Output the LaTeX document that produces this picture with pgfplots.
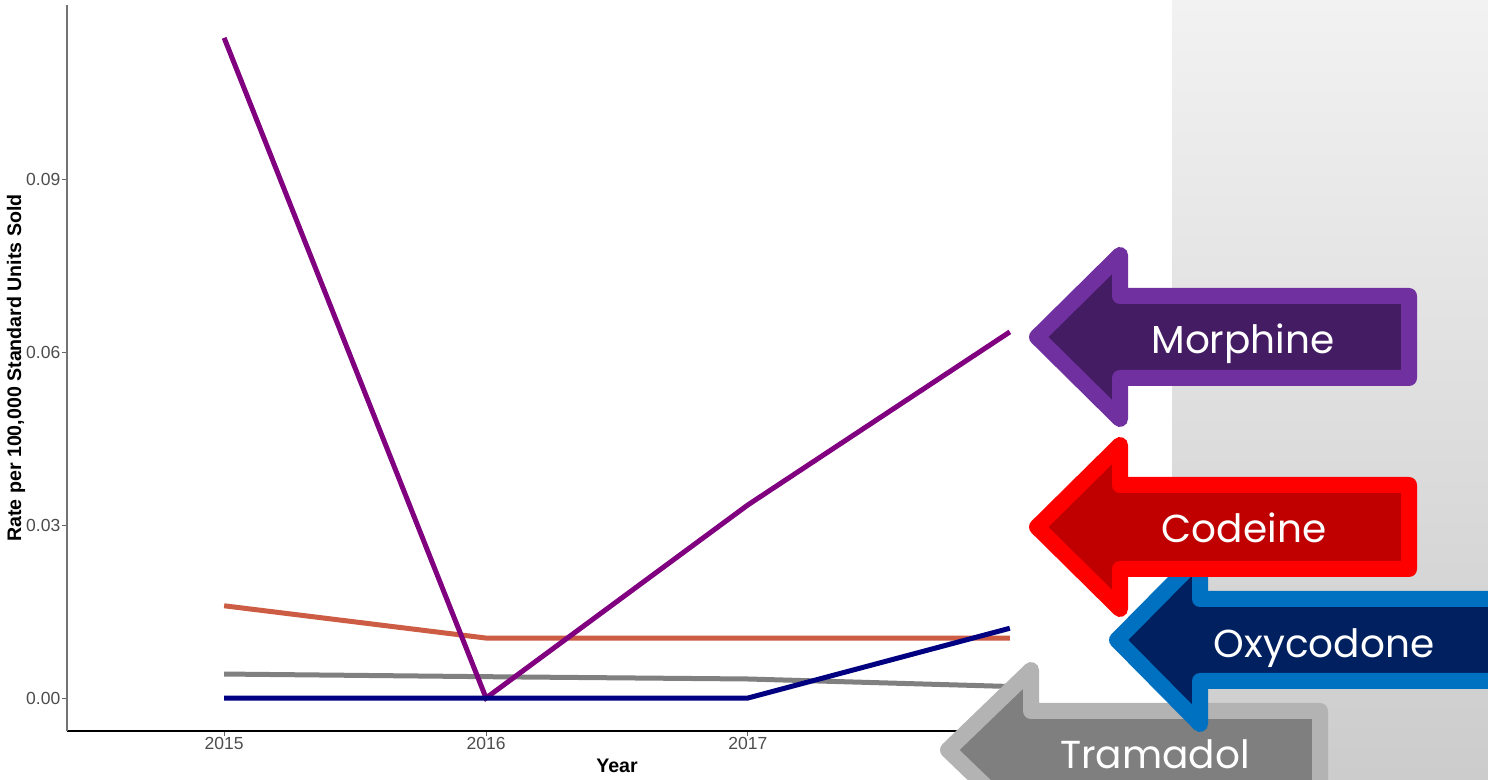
\documentclass[border=0pt]{standalone}
\usepackage{fontspec}
\setmainfont{Liberation Sans}
\newfontfamily\arrowfont{Poppins}
\usepackage{pgfplots}
\pgfplotsset{compat=1.18}
\definecolor{cMorph}{HTML}{800080}
\definecolor{cCode}{HTML}{CD5C45}
\definecolor{cTram}{HTML}{808080}
\definecolor{cOxy}{HTML}{000080}
\definecolor{tickgray}{HTML}{4D4D4D}
\definecolor{aMorphF}{HTML}{441C63}
\definecolor{aMorphB}{HTML}{7030A0}
\definecolor{aCodeF}{HTML}{C00000}
\definecolor{aCodeB}{HTML}{FF0000}
\definecolor{aOxyF}{HTML}{002060}
\definecolor{aOxyB}{HTML}{0070C0}
\definecolor{aTramF}{HTML}{7F7F7F}
\definecolor{aTramB}{HTML}{B3B3B3}
% #1 tip x, #2 centre y (image), #3 right x, #4 head half, #5 shaft half, #6 fill, #7 border
\newcommand{\bigarrow}[7]{%
\filldraw[fill=#6, draw=#7, line width=16pt, line join=round]
 ({#1+8},{779-#2}) -- ({#1+91},{779-#2+#4-8}) -- ({#1+91},{779-#2+#5-8}) --
 ({#3-8},{779-#2+#5-8}) -- ({#3-8},{779-#2-#5+8}) -- ({#1+91},{779-#2-#5+8}) --
 ({#1+91},{779-#2-#4+8}) -- cycle;}
\tikzset{arrowlabel/.style={anchor=base, inner sep=0pt, text depth=0pt, text=white, font=\arrowfont\fontsize{39}{44}\selectfont}}
\begin{document}
\begin{tikzpicture}[x=1pt,y=1pt]
\fill[white] (0,0) rectangle (1488,779);
\path[use as bounding box] (0,0) rectangle (1488,779);
\shade[top color={rgb,255:red,242;green,242;blue,242}, bottom color={rgb,255:red,204;green,204;blue,204}] (1172,0) rectangle (1488,779);
\begin{axis}[
  at={(67pt,48pt)}, anchor=south west, scale only axis,
  width=1100pt, height=726pt,
  xmin=2014.4, xmax=2018.6, ymin=-0.00572, ymax=0.1202,
  axis x line*=bottom, axis y line*=left,
  x axis line style={black, line width=1.2pt},
  y axis line style={black!55, line width=1.5pt},
  xtick={2015,2016,2017,2018}, xticklabels={2015,2016,2017,2018},
  ytick={0,0.03,0.06,0.09}, yticklabels={0.00,0.03,0.06,0.09},
  tick align=outside, major tick length=5pt,
  tick style={black!60, line width=1pt},
  ticklabel style={font=\fontsize{17.5}{20}\selectfont, text=tickgray},
  yticklabel style={inner sep=1.5pt},
  xticklabel style={inner sep=1.5pt},
  xlabel={Year}, ylabel={Rate per 100,000 Standard Units Sold},
  label style={font=\bfseries\fontsize{19.6}{22}\selectfont},
  xlabel style={at={(axis description cs:0.5,0)}, anchor=base, yshift=-41pt},
  ylabel style={at={(axis description cs:0,0.5)}, anchor=center, yshift=51pt},
  clip=false,
]
\addplot[cCode, line width=5pt] coordinates {(2015,0.0160) (2016,0.0104) (2017,0.0104) (2018,0.0104)};
\addplot[cTram, line width=5pt] coordinates {(2015,0.00416) (2016,0.0037) (2017,0.0033) (2018,0.0020)};
\addplot[cMorph, line width=5pt] coordinates {(2015,0.1145) (2016,0) (2017,0.0335) (2018,0.0635)};
\addplot[cOxy, line width=5pt] coordinates {(2015,0) (2016,0) (2017,0) (2018,0.0121)};
\end{axis}
\bigarrow{940}{750}{1328}{88}{47}{aTramF}{aTramB}
\node[arrowlabel] at (1155,11) {Tramadol};
\bigarrow{1109}{640}{1504}{92}{49}{aOxyF}{aOxyB}
\node[arrowlabel] at (1324,121) {Oxycodone};
\bigarrow{1029}{527}{1417}{90}{50}{aCodeF}{aCodeB}
\node[arrowlabel] at (1244,236) {Codeine};
\bigarrow{1029}{337}{1417}{90}{49}{aMorphF}{aMorphB}
\node[arrowlabel] at (1243,425) {Morphine};
\end{tikzpicture}
\end{document}
